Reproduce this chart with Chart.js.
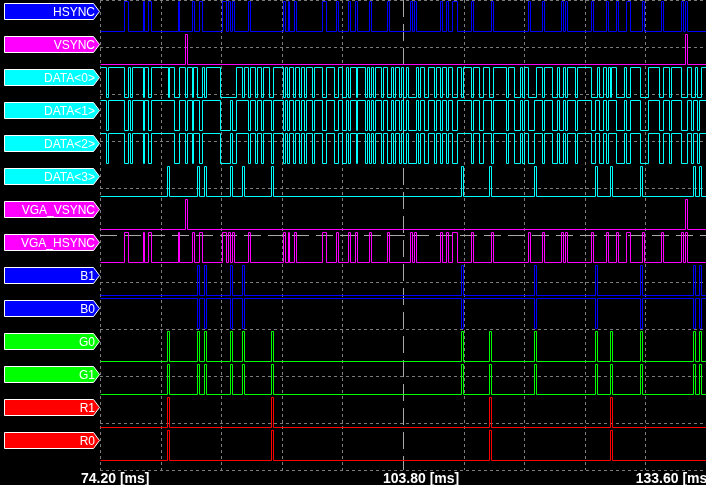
<!DOCTYPE html>
<html>
<head>
<meta charset="utf-8">
<title>VGA capture</title>
<script src="https://cdn.jsdelivr.net/npm/chart.js@4.4.0/dist/chart.umd.min.js"></script>
<style>
  html, body { margin: 0; padding: 0; background: #000; overflow: hidden; }
  #wave { display: block; }
</style>
</head>
<body>
<canvas id="wave" width="706" height="485"></canvas>
<script>
/****** time window of the capture [ms] ******/
var xMin = 74.20,
    xMax = 133.60,
    xLabelValues = [74.20, 103.80, 133.60];

/****** signal names, colours, idle level ******/
var signalNames  = ["HSYNC", "VSYNC", "DATA<0>", "DATA<1>", "DATA<2>", "DATA<3>", "VGA_VSYNC",
                    "VGA_HSYNC", "B1", "B0", "G0", "G1", "R1", "R0"];
var signalColors = ["#0000ff", "#ff00ff", "#00ffff", "#00ffff", "#00ffff", "#00ffff", "#ff00ff",
                    "#ff00ff", "#0000ff", "#0000ff", "#00ff00", "#00ff00", "#ff0000", "#ff0000"];
var idleLevels   = [0, 0, 1, 1, 1, 0, 0, 0, 0, 1, 0, 0, 0, 0];

/****** pulses [start, end] in ms, level is the opposite of idle ******/
var hsyncPulses = [
  [76.59,76.98],[78.38,78.55],[78.94,79.23],[81.81,81.98],[83.19,83.38],[83.94,84.23],[86.19,86.58],
  [86.75,86.98],[87.17,87.37],[88.74,88.94],[92.17,92.37],[92.60,92.76],[93.18,93.38],
  [95.99,96.39],[97.37,97.56],[98.54,98.74],[99.23,99.42],[100.60,100.80],[102.36,102.56],[104.62,104.82],
  [105.01,105.21],[107.56,107.76],[108.15,108.34],[108.74,109.23],[110.60,110.79],[112.56,112.75],
  [116.19,116.38],[117.56,117.75],[119.42,119.62],[119.81,120.01],[122.33,122.52],[123.83,124.03],
  [124.81,125.01],[125.79,126.18],[127.36,127.56],[129.22,129.42],[131.18,131.38],[131.57,131.77]
];
var vsyncPulses = [[82.56,82.76],[131.57,131.77]];

var data0Pulses = [
  [74.79,75.02],[76.59,76.98],[77.17,77.37],[78.38,78.55],[78.94,79.23],[80.83,81.00],[81.42,81.98],
  [82.56,82.76],[83.19,83.35],[83.74,84.23],[84.43,84.62],[86.00,87.56],[88.15,88.35],[88.74,88.94],
  [89.43,89.62],[90.01,90.21],[90.80,91.19],[92.17,92.37],[92.56,92.76],[93.15,93.35],[93.74,93.93],
  [94.20,94.39],[95.01,95.21],[95.99,96.39],[97.17,97.56],[97.95,98.35],[98.54,98.74],[99.33,99.42],
  [100.21,100.40],[100.60,100.80],[100.99,101.19],[101.78,101.97],[102.36,102.76],[102.95,103.15],
  [103.54,103.74],[103.93,104.23],[104.42,105.21],[105.40,105.60],[105.99,106.38],[106.97,107.17],
  [107.56,107.76],[108.15,108.34],[108.74,109.23],[109.62,109.81],[110.60,110.79],[111.38,111.77],
  [112.36,112.75],
  [114.03,114.22],[114.81,115.40],[115.60,115.79],[116.19,116.97],[117.56,117.75],[118.54,119.03],
  [119.22,119.62],[119.81,120.01],[120.79,120.99],[122.36,122.95],[123.14,123.54],[123.83,124.03],
  [124.22,124.32],[124.81,125.60],[125.79,126.18],[127.16,127.95],[129.03,129.42],[130.01,130.20],
  [131.18,131.77],[132.16,132.55],[132.75,133.14]
];
var data1Pulses = [
  [74.79,75.02],[76.59,76.98],[77.17,77.37],[78.38,78.55],[78.94,79.23],[81.42,81.98],[82.56,82.76],
  [83.19,83.35],[83.94,84.23],[86.00,86.98],[87.17,87.56],[88.74,88.94],[89.43,89.62],[90.01,90.21],
  [90.99,91.19],[92.17,92.37],[92.56,92.76],[93.15,93.35],[93.74,93.93],
  [94.20,94.39],[95.01,95.21],[95.99,96.39],[97.17,97.56],[97.95,98.35],[98.54,98.74],[99.33,99.42],
  [100.21,100.40],[100.60,100.80],[100.99,101.19],[101.78,101.97],[102.36,102.76],[102.95,103.15],
  [103.54,103.74],[103.93,104.23],[104.42,105.21],[105.40,105.60],[105.99,106.38],[106.97,107.17],
  [107.56,107.76],[108.15,108.34],[108.74,109.23],[110.60,110.79],[111.38,111.77],[112.56,112.75],
  [114.03,114.22],[114.81,115.40],[115.60,115.79],[116.19,116.77],[117.56,117.75],[118.54,119.03],
  [119.22,119.62],[119.81,120.01],[120.79,120.99],[122.36,122.75],[123.14,123.54],[123.83,124.03],
  [124.81,125.60],[125.79,126.18],[127.16,127.95],[129.03,129.42],[130.01,130.20],[131.18,131.77],
  [132.16,132.36],[132.75,132.95]
];
var data2Pulses = data1Pulses;   // DATA<2> follows DATA<1> in this capture
var data3Pulses = [
  [80.80,81.00],[83.74,83.94],[84.43,84.62],[86.98,87.17],[88.15,88.35],[90.99,91.19],
  [109.62,109.81],[112.36,112.56],
  [116.77,116.97],[122.75,122.95],[124.22,124.42],[127.16,127.36],[132.36,132.55],[132.95,133.14]
];
var vgaVsyncPulses = [[82.56,82.76],[131.57,131.77]];
var vgaHsyncPulses = hsyncPulses;
var bluePulses = [
  [83.74,83.94],[84.43,84.62],[86.98,87.17],[88.15,88.35],[109.62,109.81],
  [116.77,116.97],[122.75,122.95],[127.16,127.36],[132.36,132.55],[132.95,133.14]
];
var greenPulses = data3Pulses;
var redPulses = [[80.80,81.00],[90.99,91.19],[112.36,112.56],[124.22,124.42]];

var signalPulses = [hsyncPulses, vsyncPulses, data0Pulses, data1Pulses, data2Pulses, data3Pulses,
                    vgaVsyncPulses, vgaHsyncPulses, bluePulses, bluePulses, greenPulses, greenPulses,
                    redPulses, redPulses];

/****** layout ******/
var rowPitch = 33,
    highOff  = 1.5,
    lowOff   = 31.5,
    plotH    = 470,
    gridRows = 10;

function levelY(row, level){
  return row * rowPitch + (level ? highOff : lowOff);
}

function buildSteps(row){
  var idle = idleLevels[row];
  var pts = [{x: xMin, y: levelY(row, idle)}];
  signalPulses[row].forEach(function(p){
    pts.push({x: p[0], y: levelY(row, 1 - idle)});
    pts.push({x: p[1], y: levelY(row, idle)});
  });
  pts.push({x: xMax, y: levelY(row, idle)});
  return pts;
}

var datasets = [];
for (var i = 0; i < signalNames.length; i++) {
  datasets.push({
    label: signalNames[i],
    data: buildSteps(i),
    borderColor: signalColors[i],
    borderWidth: 1,
    pointRadius: 0,
    stepped: 'before',
    fill: false
  });
}

// black background, dashed grid drawn from the scale ticks
var gridPlugin = {
  id: 'gridPlugin',
  afterDatasetsUpdate: function(chart){
    // snap the step corners onto pixel centres so 1px traces stay crisp
    chart.data.datasets.forEach(function(ds, di){
      chart.getDatasetMeta(di).data.forEach(function(pt){
        pt.x = Math.round(pt.x) + 0.5;
        pt.y = Math.floor(pt.y) + 0.5;
      });
    });
  },
  beforeDraw: function(chart){
    var c = chart.ctx;
    c.save();
    c.fillStyle = "#000";
    c.fillRect(0, 0, chart.width, chart.height);
    c.restore();
  },
  beforeDatasetsDraw: function(chart){
    var c = chart.ctx, a = chart.chartArea;
    var xs = chart.scales.x, ys = chart.scales.y;
    c.save();
    c.lineWidth = 1;
    xs.ticks.forEach(function(t, idx){
      var px = Math.round(xs.getPixelForValue(t.value)) + 0.5;
      var mid = idx == 5;
      c.strokeStyle = mid ? "#a8a8a8" : "#7c7c7c";
      c.setLineDash(mid ? [17, 7] : [3, 3]);
      c.beginPath(); c.moveTo(px, a.top); c.lineTo(px, a.bottom); c.stroke();
    });
    ys.ticks.forEach(function(t, idx){
      var py = Math.round(ys.getPixelForValue(t.value)) + 0.5;
      var mid = idx == 5;
      c.strokeStyle = mid ? "#a8a8a8" : "#7c7c7c";
      c.setLineDash(mid ? [17, 7] : [3, 3]);
      c.beginPath(); c.moveTo(a.left, py); c.lineTo(a.right, py); c.stroke();
    });
    c.restore();
  },
  afterDraw: function(chart){
    var c = chart.ctx, xs = chart.scales.x;
    c.save();
    // signal name tags
    c.font = "12px 'Liberation Sans', Arial, sans-serif";
    c.textAlign = "right";
    c.textBaseline = "alphabetic";
    for (var r = 0; r < signalNames.length; r++) {
      var top = r * rowPitch + 3.5, bot = top + 16, tip = top + 8;
      c.beginPath();
      c.moveTo(4.5, top); c.lineTo(93.5, top); c.lineTo(99.5, tip);
      c.lineTo(93.5, bot); c.lineTo(4.5, bot); c.closePath();
      c.fillStyle = signalColors[r];
      c.fill();
      c.strokeStyle = "#ffffff";
      c.lineWidth = 1;
      c.stroke();
      c.fillStyle = "#ffffff";
      c.fillText(signalNames[r], 95, top + 12.5);
    }
    // time labels
    c.font = "bold 14px 'Liberation Sans', Arial, sans-serif";
    c.textAlign = "left";
    xLabelValues.forEach(function(v){
      var txt = v.toFixed(2) + " [ms]";
      var w = c.measureText(txt).width;
      var px = Math.min(xs.getPixelForValue(v) - 19, chart.width - w + 6);
      c.fillText(txt, px, 483);
    });
    c.restore();
  }
};

var wave = new Chart(document.getElementById('wave'), {
  type: 'line',
  data: { datasets: datasets },
  options: {
    responsive: false,
    animation: false,
    devicePixelRatio: 1,
    layout: { padding: 0 },
    plugins: { legend: { display: false }, tooltip: { enabled: false }, title: { display: false } },
    scales: {
      x: {
        type: 'linear', min: xMin, max: xMax,
        grid: { display: false }, border: { display: false },
        ticks: { display: false },
        afterBuildTicks: function(s){
          var t = [];
          for (var k = 0; k <= gridRows; k++) t.push({value: xMin + k * (xMax - xMin) / gridRows});
          s.ticks = t;
        },
        afterFit: function(s){ s.height = 485 - plotH; }
      },
      y: {
        type: 'linear', min: 0, max: plotH, reverse: true,
        grid: { display: false }, border: { display: false },
        ticks: { display: false },
        afterBuildTicks: function(s){
          var t = [];
          for (var k = 0; k <= gridRows; k++) t.push({value: k * plotH / gridRows});
          s.ticks = t;
        },
        afterFit: function(s){ s.width = 100; }
      }
    }
  },
  plugins: [gridPlugin]
});
</script>
</body>
</html>
